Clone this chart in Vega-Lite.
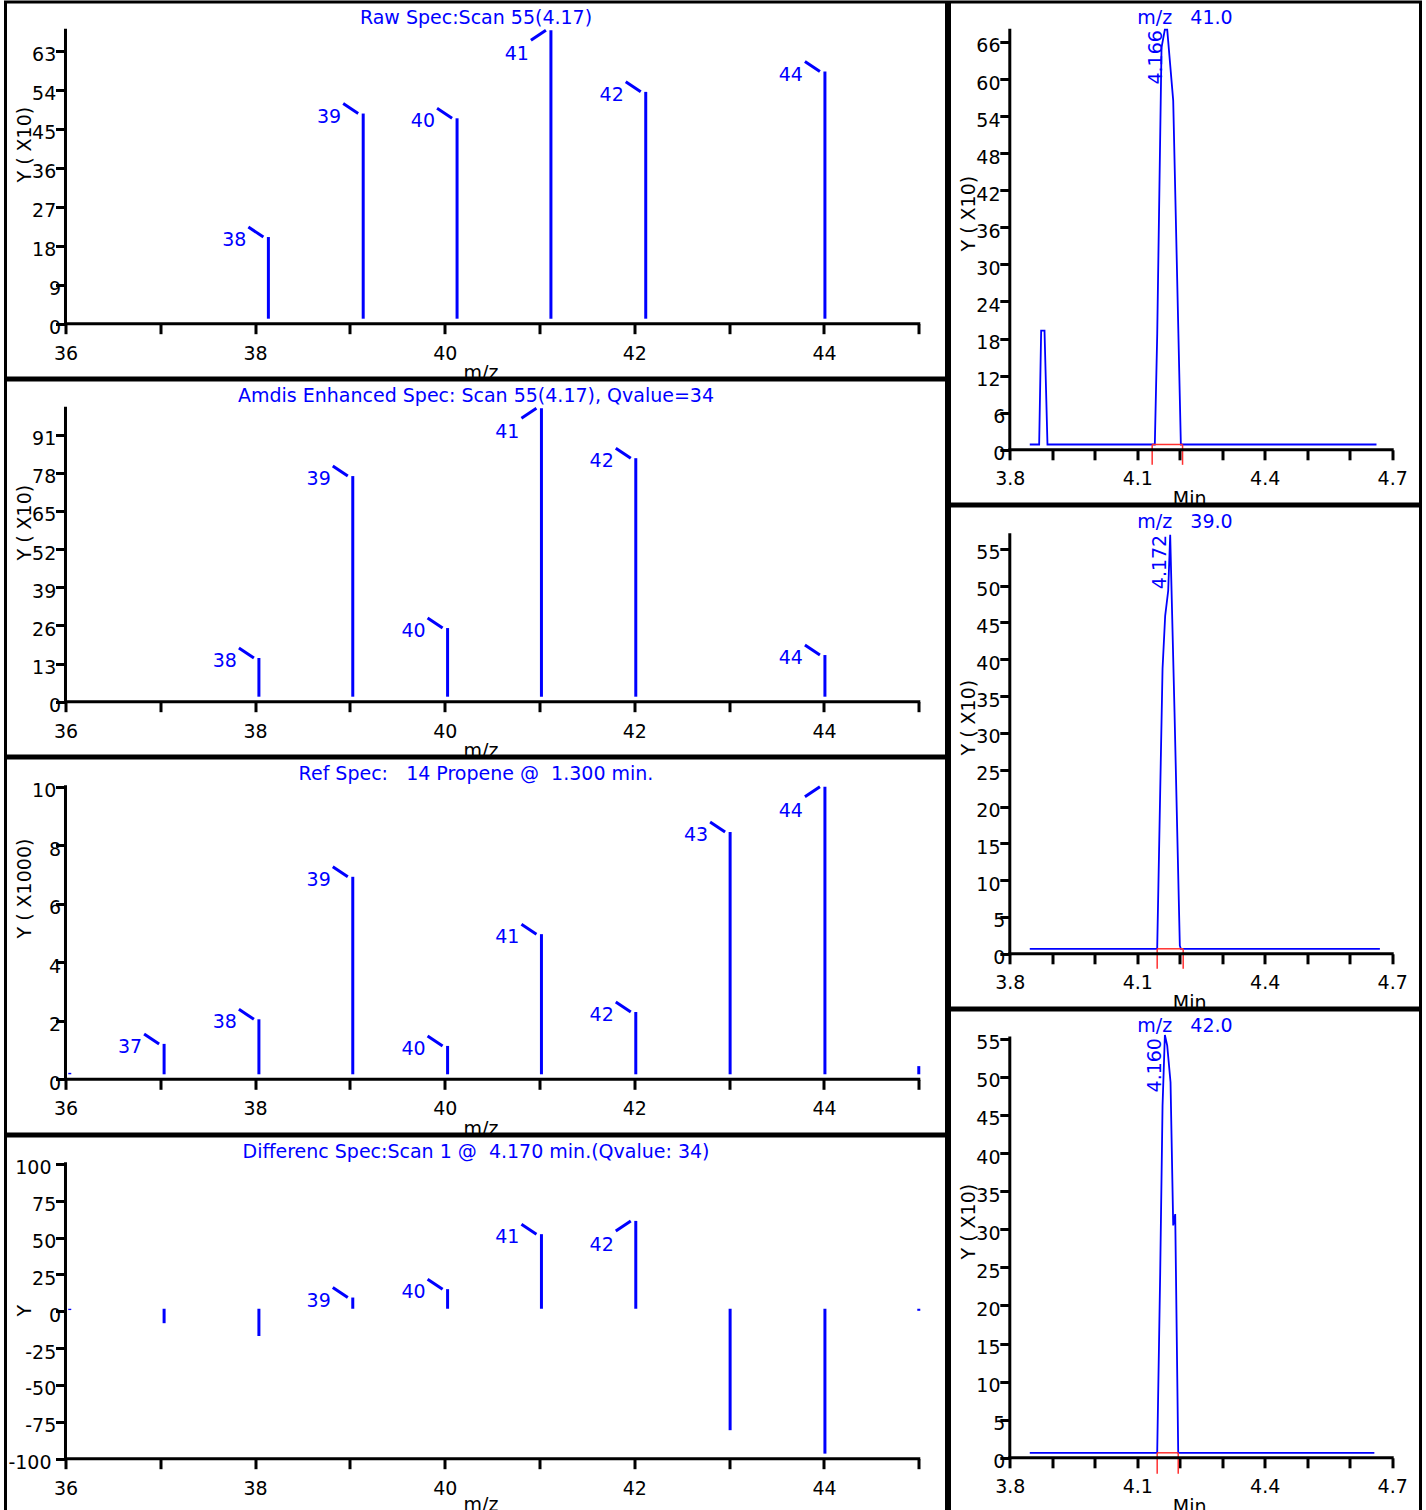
{
  "$schema": "https://vega.github.io/schema/vega-lite/v6.json",
  "background": "white",
  "padding": {"left": 3.5, "top": 0, "right": 0, "bottom": 0},
  "config": {
    "view": {"stroke": "black", "strokeWidth": 3, "fill": "white"},
    "title": {"font": "DejaVu Sans", "fontSize": 19, "fontWeight": "normal", "color": "#0000ff", "anchor": "middle", "frame": "group", "baseline": "alphabetic", "offset": -25.5},
    "axis": {"domain": false, "grid": false, "tickColor": "black", "tickWidth": 3, "tickSize": 10, "labelFont": "DejaVu Sans", "labelFontSize": 19, "labelColor": "black", "titleFont": "DejaVu Sans", "titleFontSize": 19, "titleFontWeight": "normal", "titleColor": "black", "labelOverlap": false, "labelFlush": false, "labelBound": false},
    "text": {"font": "DejaVu Sans", "fontSize": 19}
  },
  "spacing": -1,
  "hconcat": [
    {
      "spacing": 2,
      "bounds": "flush",
      "vconcat": [
        {
          "width": 941, "height": 376,
          "title": "Raw Spec:Scan 55(4.17)",
          "data": {"values": [{"mz": 38.14, "val": 20.0}, {"mz": 39.14, "val": 48.5}, {"mz": 40.13, "val": 47.4}, {"mz": 41.12, "val": 67.7}, {"mz": 42.12, "val": 53.5}, {"mz": 44.01, "val": 58.2}]},
          "layer": [
            {"mark": {"type": "rule", "color": "#0000ff", "strokeWidth": 3, "y2Offset": -5},
             "encoding": {
               "x": {"field": "mz", "type": "quantitative", "scale": {"domain": [35.3672, 45.2923], "nice": false, "zero": false},
                     "axis": {"title": "m/z", "values": [36, 37, 38, 39, 40, 41, 42, 43, 44, 45], "labelExpr": "datum.value % 2 == 0 ? '' + datum.value : ''", "offset": -54.3, "titleX": 475, "titleY": 55, "titleBaseline": "alphabetic", "labelBaseline": "alphabetic", "labelPadding": 25.5, "labelAlign": "center"}},
               "y": {"field": "val", "type": "quantitative", "scale": {"domain": [-12.53, 74.24], "nice": false, "zero": false},
                     "axis": {"title": "Y ( X10)", "values": [0, 9, 18, 27, 36, 45, 54, 63], "labelExpr": "'' + datum.value + (length('' + abs(datum.value)) > 1 ? '\u2005' : '') + (length('' + abs(datum.value)) > 2 ? '\u2005' : '') + '\u200b'", "offset": -60, "titleX": -35, "titleY": 180, "titleAngle": 270, "titleAlign": "left", "titleBaseline": "alphabetic", "labelAlign": "right", "labelBaseline": "alphabetic", "labelPadding": -5, "labelOffset": 10}},
               "y2": {"datum": 0}}},
            {"transform": [{"joinaggregate": [{"op": "max", "field": "val", "as": "vmax"}]}, {"filter": "datum.val >= 0.1*datum.vmax && datum.val < datum.vmax"}],
             "mark": {"type": "rule", "color": "#0000ff", "strokeWidth": 3, "xOffset": -5, "x2Offset": -20, "y2Offset": -10},
             "encoding": {"x": {"field": "mz", "type": "quantitative"}, "x2": {"field": "mz"}, "y": {"field": "val", "type": "quantitative"}, "y2": {"field": "val"}}},
            {"transform": [{"joinaggregate": [{"op": "max", "field": "val", "as": "vmax"}]}, {"filter": "datum.val == datum.vmax"}],
             "mark": {"type": "rule", "color": "#0000ff", "strokeWidth": 3, "xOffset": -20, "yOffset": 10, "x2Offset": -5},
             "encoding": {"x": {"field": "mz", "type": "quantitative"}, "x2": {"field": "mz"}, "y": {"field": "val", "type": "quantitative"}, "y2": {"field": "val"}}},
            {"transform": [{"joinaggregate": [{"op": "max", "field": "val", "as": "vmax"}]}, {"filter": "datum.val >= 0.1*datum.vmax && datum.val < datum.vmax"}],
             "mark": {"type": "text", "color": "#0000ff", "align": "right", "baseline": "alphabetic", "dx": -22, "dy": 9},
             "encoding": {"x": {"field": "mz", "type": "quantitative"}, "y": {"field": "val", "type": "quantitative"}, "text": {"field": "mz", "type": "quantitative", "format": ".0f"}}},
            {"transform": [{"joinaggregate": [{"op": "max", "field": "val", "as": "vmax"}]}, {"filter": "datum.val == datum.vmax"}],
             "mark": {"type": "text", "color": "#0000ff", "align": "right", "baseline": "alphabetic", "dx": -22, "dy": 30},
             "encoding": {"x": {"field": "mz", "type": "quantitative"}, "y": {"field": "val", "type": "quantitative"}, "text": {"field": "mz", "type": "quantitative", "format": ".0f"}}},
            {"data": {"values": [{}]}, "mark": {"type": "rule", "color": "black", "strokeWidth": 3, "strokeCap": "square"},
             "encoding": {"x": {"datum": 36}, "x2": {"datum": 45}, "y": {"datum": 0}}},
            {"data": {"values": [{}]}, "mark": {"type": "rule", "color": "black", "strokeWidth": 3, "strokeCap": "square"},
             "encoding": {"x": {"datum": 36}, "y": {"datum": 0}, "y2": {"datum": 67.7}}}
          ]
        },
        {
          "width": 941, "height": 376,
          "title": "Amdis Enhanced Spec: Scan 55(4.17), Qvalue=34",
          "data": {"values": [{"mz": 38.04, "val": 14.9}, {"mz": 39.03, "val": 76.9}, {"mz": 40.03, "val": 25.1}, {"mz": 41.02, "val": 100}, {"mz": 42.015, "val": 83.0}, {"mz": 44.01, "val": 15.9}]},
          "layer": [
            {"mark": {"type": "rule", "color": "#0000ff", "strokeWidth": 3, "y2Offset": -5},
             "encoding": {
               "x": {"field": "mz", "type": "quantitative", "scale": {"domain": [35.3672, 45.2923], "nice": false, "zero": false},
                     "axis": {"title": "m/z", "values": [36, 37, 38, 39, 40, 41, 42, 43, 44, 45], "labelExpr": "datum.value % 2 == 0 ? '' + datum.value : ''", "offset": -54.3, "titleX": 475, "titleY": 55, "titleBaseline": "alphabetic", "labelBaseline": "alphabetic", "labelPadding": 25.5, "labelAlign": "center"}},
               "y": {"field": "val", "type": "quantitative", "scale": {"domain": [-18.51, 109.65], "nice": false, "zero": false},
                     "axis": {"title": "Y ( X10)", "values": [0, 13, 26, 39, 52, 65, 78, 91], "labelExpr": "'' + datum.value + (length('' + abs(datum.value)) > 1 ? '\u2005' : '') + (length('' + abs(datum.value)) > 2 ? '\u2005' : '') + '\u200b'", "offset": -60, "titleX": -35, "titleY": 180, "titleAngle": 270, "titleAlign": "left", "titleBaseline": "alphabetic", "labelAlign": "right", "labelBaseline": "alphabetic", "labelPadding": -5, "labelOffset": 10}},
               "y2": {"datum": 0}}},
            {"transform": [{"joinaggregate": [{"op": "max", "field": "val", "as": "vmax"}]}, {"filter": "datum.val >= 0.1*datum.vmax && datum.val < datum.vmax"}],
             "mark": {"type": "rule", "color": "#0000ff", "strokeWidth": 3, "xOffset": -5, "x2Offset": -20, "y2Offset": -10},
             "encoding": {"x": {"field": "mz", "type": "quantitative"}, "x2": {"field": "mz"}, "y": {"field": "val", "type": "quantitative"}, "y2": {"field": "val"}}},
            {"transform": [{"joinaggregate": [{"op": "max", "field": "val", "as": "vmax"}]}, {"filter": "datum.val == datum.vmax"}],
             "mark": {"type": "rule", "color": "#0000ff", "strokeWidth": 3, "xOffset": -20, "yOffset": 10, "x2Offset": -5},
             "encoding": {"x": {"field": "mz", "type": "quantitative"}, "x2": {"field": "mz"}, "y": {"field": "val", "type": "quantitative"}, "y2": {"field": "val"}}},
            {"transform": [{"joinaggregate": [{"op": "max", "field": "val", "as": "vmax"}]}, {"filter": "datum.val >= 0.1*datum.vmax && datum.val < datum.vmax"}],
             "mark": {"type": "text", "color": "#0000ff", "align": "right", "baseline": "alphabetic", "dx": -22, "dy": 9},
             "encoding": {"x": {"field": "mz", "type": "quantitative"}, "y": {"field": "val", "type": "quantitative"}, "text": {"field": "mz", "type": "quantitative", "format": ".0f"}}},
            {"transform": [{"joinaggregate": [{"op": "max", "field": "val", "as": "vmax"}]}, {"filter": "datum.val == datum.vmax"}],
             "mark": {"type": "text", "color": "#0000ff", "align": "right", "baseline": "alphabetic", "dx": -22, "dy": 30},
             "encoding": {"x": {"field": "mz", "type": "quantitative"}, "y": {"field": "val", "type": "quantitative"}, "text": {"field": "mz", "type": "quantitative", "format": ".0f"}}},
            {"data": {"values": [{}]}, "mark": {"type": "rule", "color": "black", "strokeWidth": 3, "strokeCap": "square"},
             "encoding": {"x": {"datum": 36}, "x2": {"datum": 45}, "y": {"datum": 0}}},
            {"data": {"values": [{}]}, "mark": {"type": "rule", "color": "black", "strokeWidth": 3, "strokeCap": "square"},
             "encoding": {"x": {"datum": 36}, "y": {"datum": 0}, "y2": {"datum": 100}}}
          ]
        },
        {
          "width": 941, "height": 376,
          "title": "Ref Spec:\u00a0\u00a0 14 Propene @\u00a0 1.300 min.",
          "data": {"values": [{"mz": 36.045, "val": 0.22}, {"mz": 37.04, "val": 1.21}, {"mz": 38.04, "val": 2.05}, {"mz": 39.03, "val": 6.92}, {"mz": 40.03, "val": 1.14}, {"mz": 41.02, "val": 4.96}, {"mz": 42.015, "val": 2.30}, {"mz": 43.01, "val": 8.45}, {"mz": 44.01, "val": 10.0}, {"mz": 45.0, "val": 0.45}]},
          "layer": [
            {"mark": {"type": "rule", "color": "#0000ff", "strokeWidth": 3, "y2Offset": -5},
             "encoding": {
               "x": {"field": "mz", "type": "quantitative", "scale": {"domain": [35.3672, 45.2923], "nice": false, "zero": false},
                     "axis": {"title": "m/z", "values": [36, 37, 38, 39, 40, 41, 42, 43, 44, 45], "labelExpr": "datum.value % 2 == 0 ? '' + datum.value : ''", "offset": -54.7, "titleX": 475, "titleY": 55, "titleBaseline": "alphabetic", "labelBaseline": "alphabetic", "labelPadding": 25.5, "labelAlign": "center"}},
               "y": {"field": "val", "type": "quantitative", "scale": {"domain": [-1.87, 10.98], "nice": false, "zero": false},
                     "axis": {"title": "Y ( X1000)", "values": [0, 2, 4, 6, 8, 10], "labelExpr": "'' + datum.value + (length('' + abs(datum.value)) > 1 ? '\u2005' : '') + (length('' + abs(datum.value)) > 2 ? '\u2005' : '') + '\u200b'", "offset": -60, "titleX": -35, "titleY": 180, "titleAngle": 270, "titleAlign": "left", "titleBaseline": "alphabetic", "labelAlign": "right", "labelBaseline": "alphabetic", "labelPadding": -5, "labelOffset": 10}},
               "y2": {"datum": 0}}},
            {"transform": [{"joinaggregate": [{"op": "max", "field": "val", "as": "vmax"}]}, {"filter": "datum.val >= 0.1*datum.vmax && datum.val < datum.vmax"}],
             "mark": {"type": "rule", "color": "#0000ff", "strokeWidth": 3, "xOffset": -5, "x2Offset": -20, "y2Offset": -10},
             "encoding": {"x": {"field": "mz", "type": "quantitative"}, "x2": {"field": "mz"}, "y": {"field": "val", "type": "quantitative"}, "y2": {"field": "val"}}},
            {"transform": [{"joinaggregate": [{"op": "max", "field": "val", "as": "vmax"}]}, {"filter": "datum.val == datum.vmax"}],
             "mark": {"type": "rule", "color": "#0000ff", "strokeWidth": 3, "xOffset": -20, "yOffset": 10, "x2Offset": -5},
             "encoding": {"x": {"field": "mz", "type": "quantitative"}, "x2": {"field": "mz"}, "y": {"field": "val", "type": "quantitative"}, "y2": {"field": "val"}}},
            {"transform": [{"joinaggregate": [{"op": "max", "field": "val", "as": "vmax"}]}, {"filter": "datum.val >= 0.1*datum.vmax && datum.val < datum.vmax"}],
             "mark": {"type": "text", "color": "#0000ff", "align": "right", "baseline": "alphabetic", "dx": -22, "dy": 9},
             "encoding": {"x": {"field": "mz", "type": "quantitative"}, "y": {"field": "val", "type": "quantitative"}, "text": {"field": "mz", "type": "quantitative", "format": ".0f"}}},
            {"transform": [{"joinaggregate": [{"op": "max", "field": "val", "as": "vmax"}]}, {"filter": "datum.val == datum.vmax"}],
             "mark": {"type": "text", "color": "#0000ff", "align": "right", "baseline": "alphabetic", "dx": -22, "dy": 30},
             "encoding": {"x": {"field": "mz", "type": "quantitative"}, "y": {"field": "val", "type": "quantitative"}, "text": {"field": "mz", "type": "quantitative", "format": ".0f"}}},
            {"data": {"values": [{}]}, "mark": {"type": "rule", "color": "black", "strokeWidth": 3, "strokeCap": "square"},
             "encoding": {"x": {"datum": 36}, "x2": {"datum": 45}, "y": {"datum": 0}}},
            {"data": {"values": [{}]}, "mark": {"type": "rule", "color": "black", "strokeWidth": 3, "strokeCap": "square"},
             "encoding": {"x": {"datum": 36}, "y": {"datum": 0}, "y2": {"datum": 10}}}
          ]
        },
        {
          "width": 941, "height": 376,
          "title": "Differenc Spec:Scan 1 @\u00a0 4.170 min.(Qvalue: 34)",
          "data": {"values": [{"mz": 36.045, "val": 0.8}, {"mz": 37.04, "val": -8.1}, {"mz": 38.04, "val": -16.8}, {"mz": 39.03, "val": 9.3}, {"mz": 40.03, "val": 15.0}, {"mz": 41.02, "val": 52.3}, {"mz": 42.015, "val": 61.3}, {"mz": 43.01, "val": -80.7}, {"mz": 44.01, "val": -96.6}, {"mz": 45.0, "val": 0.3}]},
          "layer": [
            {"mark": {"type": "rule", "color": "#0000ff", "strokeWidth": 3, "y2Offset": -2.5},
             "encoding": {
               "x": {"field": "mz", "type": "quantitative", "scale": {"domain": [35.3672, 45.2923], "nice": false, "zero": false},
                     "axis": {"title": "m/z", "values": [36, 37, 38, 39, 40, 41, 42, 43, 44, 45], "labelExpr": "datum.value % 2 == 0 ? '' + datum.value : ''", "offset": -53.3, "titleX": 475, "titleY": 52, "titleBaseline": "alphabetic", "labelBaseline": "alphabetic", "labelPadding": 25.5, "labelAlign": "center"}},
               "y": {"field": "val", "type": "quantitative", "scale": {"domain": [-136.2, 118.9], "nice": false, "zero": false},
                     "axis": {"title": "Y", "values": [-100, -75, -50, -25, 0, 25, 50, 75, 100], "labelExpr": "'' + datum.value + (length('' + abs(datum.value)) > 1 ? '\u2005' : '') + (length('' + abs(datum.value)) > 2 ? '\u2005' : '') + '\u200b'", "offset": -60, "titleX": -35, "titleY": 180, "titleAngle": 270, "titleAlign": "left", "titleBaseline": "alphabetic", "labelAlign": "right", "labelBaseline": "alphabetic", "labelPadding": -5, "labelOffset": 10}},
               "y2": {"datum": 0}}},
            {"transform": [{"joinaggregate": [{"op": "max", "field": "val", "as": "vmax"}]}, {"filter": "datum.val >= 0.1*datum.vmax && datum.val < datum.vmax"}],
             "mark": {"type": "rule", "color": "#0000ff", "strokeWidth": 3, "xOffset": -5, "x2Offset": -20, "y2Offset": -10},
             "encoding": {"x": {"field": "mz", "type": "quantitative"}, "x2": {"field": "mz"}, "y": {"field": "val", "type": "quantitative"}, "y2": {"field": "val"}}},
            {"transform": [{"joinaggregate": [{"op": "max", "field": "val", "as": "vmax"}]}, {"filter": "datum.val == datum.vmax"}],
             "mark": {"type": "rule", "color": "#0000ff", "strokeWidth": 3, "xOffset": -20, "yOffset": 10, "x2Offset": -5},
             "encoding": {"x": {"field": "mz", "type": "quantitative"}, "x2": {"field": "mz"}, "y": {"field": "val", "type": "quantitative"}, "y2": {"field": "val"}}},
            {"transform": [{"joinaggregate": [{"op": "max", "field": "val", "as": "vmax"}]}, {"filter": "datum.val >= 0.1*datum.vmax && datum.val < datum.vmax"}],
             "mark": {"type": "text", "color": "#0000ff", "align": "right", "baseline": "alphabetic", "dx": -22, "dy": 9},
             "encoding": {"x": {"field": "mz", "type": "quantitative"}, "y": {"field": "val", "type": "quantitative"}, "text": {"field": "mz", "type": "quantitative", "format": ".0f"}}},
            {"transform": [{"joinaggregate": [{"op": "max", "field": "val", "as": "vmax"}]}, {"filter": "datum.val == datum.vmax"}],
             "mark": {"type": "text", "color": "#0000ff", "align": "right", "baseline": "alphabetic", "dx": -22, "dy": 30},
             "encoding": {"x": {"field": "mz", "type": "quantitative"}, "y": {"field": "val", "type": "quantitative"}, "text": {"field": "mz", "type": "quantitative", "format": ".0f"}}},
            {"data": {"values": [{}]}, "mark": {"type": "rule", "color": "black", "strokeWidth": 3, "strokeCap": "square"},
             "encoding": {"x": {"datum": 36}, "x2": {"datum": 45}, "y": {"datum": -100}}},
            {"data": {"values": [{}]}, "mark": {"type": "rule", "color": "black", "strokeWidth": 3, "strokeCap": "square"},
             "encoding": {"x": {"datum": 36}, "y": {"datum": -100}, "y2": {"datum": 100}}}
          ]
        }
      ]
    },
    {
      "spacing": 2,
      "bounds": "flush",
      "vconcat": [
        {
          "width": 471, "height": 502,
          "title": "m/z\u00a0\u00a0 41.0",
          "layer": [
            {"data": {"values": [{"t": 3.847, "v": 0.86}, {"t": 3.8691, "v": 0.86}, {"t": 3.8738, "v": 19.3}, {"t": 3.8817, "v": 19.3}, {"t": 3.8887, "v": 0.86}, {"t": 4.1413, "v": 0.86}, {"t": 4.1470, "v": 18.8}, {"t": 4.1571, "v": 65.1}, {"t": 4.1649, "v": 68.0}, {"t": 4.1705, "v": 68.0}, {"t": 4.1846, "v": 56.5}, {"t": 4.2026, "v": 0.86}, {"t": 4.663, "v": 0.86}]},
             "mark": {"type": "line", "color": "#0000ff", "strokeWidth": 1.8},
             "encoding": {
               "x": {"field": "t", "type": "quantitative", "scale": {"domain": [3.6581, 4.7666], "nice": false, "zero": false},
                     "axis": {"title": "Min", "values": [3.8, 3.9, 4.0, 4.1, 4.2, 4.3, 4.4, 4.5, 4.6, 4.7], "labelExpr": "round(datum.value*10) % 3 == 2 ? format(datum.value, '.1f') : ''", "offset": -54.2, "titleX": 239.7, "titleY": 55, "titleBaseline": "alphabetic", "labelBaseline": "alphabetic", "labelPadding": 25, "labelAlign": "center"}},
               "y": {"field": "v", "type": "quantitative", "scale": {"domain": [-8.77, 72.46], "nice": false, "zero": false},
                     "axis": {"title": "Y ( X10)", "values": [0, 6, 12, 18, 24, 30, 36, 42, 48, 54, 60, 66], "labelExpr": "'' + datum.value + (length('' + abs(datum.value)) > 1 ? '\u2005' : '') + (length('' + abs(datum.value)) > 2 ? '\u2005' : '') + '\u200b'", "offset": -60.3, "titleX": -35, "titleY": 249, "titleAngle": 270, "titleAlign": "left", "titleBaseline": "alphabetic", "labelAlign": "right", "labelBaseline": "alphabetic", "labelPadding": -5, "labelOffset": 10}},
               "order": {"field": "t"}}},
            {"data": {"values": [{"t1": 4.1351, "t2": 4.2066, "v1": 0.86, "v2": 0.86}, {"t1": 4.1351, "t2": 4.1351, "v1": 0.86, "v2": -2.43}, {"t1": 4.2066, "t2": 4.2066, "v1": 0.86, "v2": -2.43}]},
             "mark": {"type": "rule", "color": "#ff3030", "strokeWidth": 1.5},
             "encoding": {"x": {"field": "t1", "type": "quantitative"}, "x2": {"field": "t2"}, "y": {"field": "v1", "type": "quantitative"}, "y2": {"field": "v2"}}},
            {"data": {"values": [{"t": 4.1676, "v": 67.9, "lab": "4.166"}]},
             "mark": {"type": "text", "color": "#0000ff", "angle": 270, "align": "right", "baseline": "alphabetic", "xOffset": -4},
             "encoding": {"x": {"field": "t", "type": "quantitative"}, "y": {"field": "v", "type": "quantitative"}, "text": {"field": "lab"}}},
            {"data": {"values": [{}]}, "mark": {"type": "rule", "color": "black", "strokeWidth": 3, "strokeCap": "square"},
             "encoding": {"x": {"datum": 3.8}, "x2": {"datum": 4.7}, "y": {"datum": 0}}},
            {"data": {"values": [{}]}, "mark": {"type": "rule", "color": "black", "strokeWidth": 3, "strokeCap": "square"},
             "encoding": {"x": {"datum": 3.8}, "y": {"datum": 0}, "y2": {"datum": 67.9}}}
          ]
        },
        {
          "width": 471, "height": 502,
          "title": "m/z\u00a0\u00a0 39.0",
          "layer": [
            {"data": {"values": [{"t": 3.847, "v": 0.68}, {"t": 4.1469, "v": 0.68}, {"t": 4.1595, "v": 38.7}, {"t": 4.1657, "v": 45.9}, {"t": 4.1728, "v": 49.3}, {"t": 4.1775, "v": 56.9}, {"t": 4.1877, "v": 32.8}, {"t": 4.2002, "v": 1.1}, {"t": 4.2026, "v": 0.68}, {"t": 4.671, "v": 0.68}]},
             "mark": {"type": "line", "color": "#0000ff", "strokeWidth": 1.8},
             "encoding": {
               "x": {"field": "t", "type": "quantitative", "scale": {"domain": [3.6581, 4.7666], "nice": false, "zero": false},
                     "axis": {"title": "Min", "values": [3.8, 3.9, 4.0, 4.1, 4.2, 4.3, 4.4, 4.5, 4.6, 4.7], "labelExpr": "round(datum.value*10) % 3 == 2 ? format(datum.value, '.1f') : ''", "offset": -54.2, "titleX": 239.7, "titleY": 55, "titleBaseline": "alphabetic", "labelBaseline": "alphabetic", "labelPadding": 25, "labelAlign": "center"}},
               "y": {"field": "v", "type": "quantitative", "scale": {"domain": [-7.36, 60.81], "nice": false, "zero": false},
                     "axis": {"title": "Y ( X10)", "values": [0, 5, 10, 15, 20, 25, 30, 35, 40, 45, 50, 55], "labelExpr": "'' + datum.value + (length('' + abs(datum.value)) > 1 ? '\u2005' : '') + (length('' + abs(datum.value)) > 2 ? '\u2005' : '') + '\u200b'", "offset": -60.3, "titleX": -35, "titleY": 249, "titleAngle": 270, "titleAlign": "left", "titleBaseline": "alphabetic", "labelAlign": "right", "labelBaseline": "alphabetic", "labelPadding": -5, "labelOffset": 10}},
               "order": {"field": "t"}}},
            {"data": {"values": [{"t1": 4.1469, "t2": 4.2081, "v1": 0.68, "v2": 0.68}, {"t1": 4.1469, "t2": 4.1469, "v1": 0.68, "v2": -2.04}, {"t1": 4.2081, "t2": 4.2081, "v1": 0.68, "v2": -2.04}]},
             "mark": {"type": "rule", "color": "#ff3030", "strokeWidth": 1.5},
             "encoding": {"x": {"field": "t1", "type": "quantitative"}, "x2": {"field": "t2"}, "y": {"field": "v1", "type": "quantitative"}, "y2": {"field": "v2"}}},
            {"data": {"values": [{"t": 4.1774, "v": 56.9, "lab": "4.172"}]},
             "mark": {"type": "text", "color": "#0000ff", "angle": 270, "align": "right", "baseline": "alphabetic", "xOffset": -4},
             "encoding": {"x": {"field": "t", "type": "quantitative"}, "y": {"field": "v", "type": "quantitative"}, "text": {"field": "lab"}}},
            {"data": {"values": [{}]}, "mark": {"type": "rule", "color": "black", "strokeWidth": 3, "strokeCap": "square"},
             "encoding": {"x": {"datum": 3.8}, "x2": {"datum": 4.7}, "y": {"datum": 0}}},
            {"data": {"values": [{}]}, "mark": {"type": "rule", "color": "black", "strokeWidth": 3, "strokeCap": "square"},
             "encoding": {"x": {"datum": 3.8}, "y": {"datum": 0}, "y2": {"datum": 56.9}}}
          ]
        },
        {
          "width": 471, "height": 502,
          "title": "m/z\u00a0\u00a0 42.0",
          "layer": [
            {"data": {"values": [{"t": 3.847, "v": 0.66}, {"t": 4.1469, "v": 0.66}, {"t": 4.1540, "v": 24.4}, {"t": 4.1595, "v": 46.2}, {"t": 4.1650, "v": 55.5}, {"t": 4.1705, "v": 54.1}, {"t": 4.1783, "v": 49.3}, {"t": 4.1846, "v": 30.5}, {"t": 4.1893, "v": 32.0}, {"t": 4.1964, "v": 0.66}, {"t": 4.658, "v": 0.66}]},
             "mark": {"type": "line", "color": "#0000ff", "strokeWidth": 1.8},
             "encoding": {
               "x": {"field": "t", "type": "quantitative", "scale": {"domain": [3.6581, 4.7666], "nice": false, "zero": false},
                     "axis": {"title": "Min", "values": [3.8, 3.9, 4.0, 4.1, 4.2, 4.3, 4.4, 4.5, 4.6, 4.7], "labelExpr": "round(datum.value*10) % 3 == 2 ? format(datum.value, '.1f') : ''", "offset": -54.2, "titleX": 239.7, "titleY": 55, "titleBaseline": "alphabetic", "labelBaseline": "alphabetic", "labelPadding": 25, "labelAlign": "center"}},
               "y": {"field": "v", "type": "quantitative", "scale": {"domain": [-7.11, 58.78], "nice": false, "zero": false},
                     "axis": {"title": "Y ( X10)", "values": [0, 5, 10, 15, 20, 25, 30, 35, 40, 45, 50, 55], "labelExpr": "'' + datum.value + (length('' + abs(datum.value)) > 1 ? '\u2005' : '') + (length('' + abs(datum.value)) > 2 ? '\u2005' : '') + '\u200b'", "offset": -60.3, "titleX": -35, "titleY": 249, "titleAngle": 270, "titleAlign": "left", "titleBaseline": "alphabetic", "labelAlign": "right", "labelBaseline": "alphabetic", "labelPadding": -5, "labelOffset": 10}},
               "order": {"field": "t"}}},
            {"data": {"values": [{"t1": 4.1469, "t2": 4.1964, "v1": 0.66, "v2": 0.66}, {"t1": 4.1469, "t2": 4.1469, "v1": 0.66, "v2": -2.1}, {"t1": 4.1964, "t2": 4.1964, "v1": 0.66, "v2": -2.1}]},
             "mark": {"type": "rule", "color": "#ff3030", "strokeWidth": 1.5},
             "encoding": {"x": {"field": "t1", "type": "quantitative"}, "x2": {"field": "t2"}, "y": {"field": "v1", "type": "quantitative"}, "y2": {"field": "v2"}}},
            {"data": {"values": [{"t": 4.1649, "v": 55.1, "lab": "4.160"}]},
             "mark": {"type": "text", "color": "#0000ff", "angle": 270, "align": "right", "baseline": "alphabetic", "xOffset": -4},
             "encoding": {"x": {"field": "t", "type": "quantitative"}, "y": {"field": "v", "type": "quantitative"}, "text": {"field": "lab"}}},
            {"data": {"values": [{}]}, "mark": {"type": "rule", "color": "black", "strokeWidth": 3, "strokeCap": "square"},
             "encoding": {"x": {"datum": 3.8}, "x2": {"datum": 4.7}, "y": {"datum": 0}}},
            {"data": {"values": [{}]}, "mark": {"type": "rule", "color": "black", "strokeWidth": 3, "strokeCap": "square"},
             "encoding": {"x": {"datum": 3.8}, "y": {"datum": 0}, "y2": {"datum": 55.1}}}
          ]
        }
      ]
    }
  ]
}
